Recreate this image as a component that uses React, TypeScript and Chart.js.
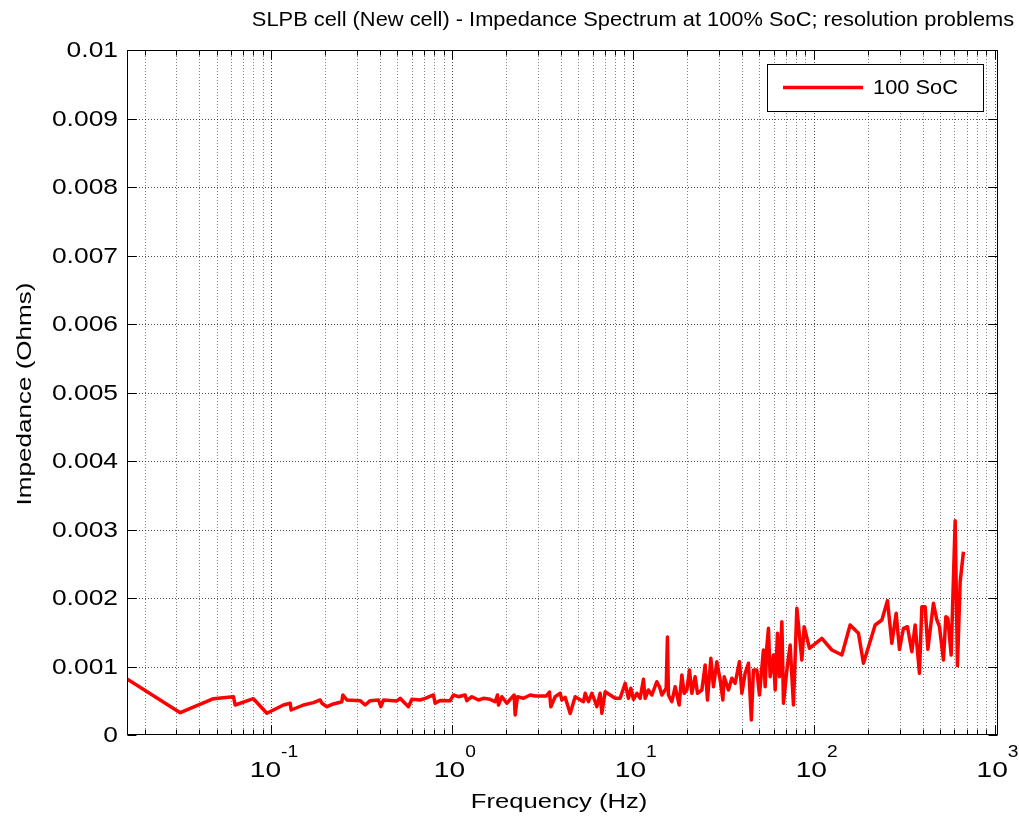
import React, { useEffect, useRef } from 'react';
import { Chart, registerables } from 'chart.js';

Chart.register(...registerables);

const W = 1019;
const H = 817;
const FONT = '"Liberation Sans", Arial, Helvetica, sans-serif';

const titleText = 'SLPB cell (New cell) - Impedance Spectrum at 100% SoC; resolution problems';
const xAxisTitle = 'Frequency (Hz)';
const yAxisTitle = 'Impedance (Ohms)';
const seriesLabel = '100 SoC';

const xMin = 0.016;
const xMax = 1045;
const yMin = 0;
const yMax = 0.01;

const yTickValues = [0, 0.001, 0.002, 0.003, 0.004, 0.005, 0.006, 0.007, 0.008, 0.009, 0.01];
const yTickLabels = ['0', '0.001', '0.002', '0.003', '0.004', '0.005', '0.006', '0.007', '0.008', '0.009', '0.01'];
const xDecadeValues = [0.1, 1, 10, 100, 1000];
const xDecadeExponents = ['-1', '0', '1', '2', '3'];
const minorDecades = [0.01, 0.1, 1, 10, 100];
const minorMultipliers = [2, 3, 4, 5, 6, 7, 8, 9];

const freqHz = [
  0.0160, 0.0315, 0.0481, 0.0620, 0.0634, 0.0800, 0.0949, 0.1172, 0.1277, 0.1293,
  0.1512, 0.1718, 0.1871, 0.1912, 0.2037, 0.2216, 0.2466, 0.2497, 0.2628, 0.3112,
  0.3317, 0.3535, 0.3928, 0.4050, 0.4187, 0.4966, 0.5178, 0.540, 0.5756, 0.601,
  0.668, 0.712, 0.791, 0.8085, 0.862, 0.979, 1.021, 1.088, 1.184, 1.210,
  1.290, 1.403, 1.495, 1.628, 1.735, 1.787, 1.810, 1.890, 2.014, 2.101,
  2.210, 2.238, 2.305, 2.488, 2.709, 2.887, 3.077, 3.321, 3.463, 3.526,
  3.724, 3.969, 4.056, 4.230, 4.508, 4.804, 5.340, 5.457, 5.691, 5.943,
  6.198, 6.334, 6.603, 6.748, 7.038, 7.502, 7.993, 8.518, 9.078, 9.467,
  9.761, 10.09, 10.54, 10.99, 11.46, 11.71, 12.21, 12.75, 13.59, 14.05,
  14.49, 15.30, 15.55, 15.75, 16.45, 17.16, 18.05, 18.68, 19.24, 19.91,
  20.58, 21.22, 22.13, 22.79, 24.10, 25.13, 25.88, 27.02, 27.93, 29.17,
  30.42, 31.49, 32.01, 33.81, 35.30, 36.82, 38.89, 40.10, 41.81, 43.61,
  45.24, 46.47, 48.53, 50.16, 52.78, 53.94, 55.12, 56.25, 57.48, 59.96,
  61.27, 63.08, 64.71, 66.72, 68.10, 71.11, 74.16, 77.35, 80.75, 86.06,
  88.62, 94.81, 111.0, 126.1, 143.2, 159.1, 176.9, 188.5, 218.8, 238.3,
  255.9, 270.6, 285.8, 298.1, 313.6, 330.0, 349.0, 364.0, 384.5, 396.4,
  413.4, 427.9, 459.5, 479.9, 496.0, 521.9, 538.1, 551.9, 575.6, 605.7,
  623.7, 645.6, 673.3,
];

const impedanceOhm = [
  0.000818, 0.000326, 0.000530, 0.000559, 0.000438, 0.000530, 0.000317, 0.000438, 0.000463, 0.000365,
  0.000438, 0.000472, 0.000511, 0.000463, 0.000413, 0.000453, 0.000486, 0.000584, 0.000511, 0.000501,
  0.000438, 0.000501, 0.000511, 0.000413, 0.000511, 0.000496, 0.000536, 0.000486, 0.000413, 0.000521,
  0.000511, 0.000536, 0.000584, 0.000463, 0.000504, 0.000501, 0.000584, 0.000559, 0.000584, 0.000501,
  0.000559, 0.000511, 0.000536, 0.000521, 0.000486, 0.000584, 0.000438, 0.000559, 0.000463, 0.000521,
  0.000584, 0.000292, 0.000559, 0.000536, 0.000584, 0.000569, 0.000569, 0.000569, 0.000628, 0.000413,
  0.000559, 0.000609, 0.000511, 0.000550, 0.000314, 0.000559, 0.000486, 0.000609, 0.000486, 0.000609,
  0.000486, 0.000413, 0.000609, 0.000317, 0.000632, 0.000584, 0.000536, 0.000536, 0.000755, 0.000536,
  0.000682, 0.000521, 0.000609, 0.000536, 0.000813, 0.000536, 0.000657, 0.000584, 0.000778, 0.000705,
  0.000584, 0.000682, 0.001431, 0.000584, 0.000486, 0.000705, 0.000438, 0.000876, 0.000609, 0.000657,
  0.000949, 0.000609, 0.000851, 0.000609, 0.000657, 0.001022, 0.000511, 0.001120, 0.000705, 0.001070,
  0.000803, 0.000511, 0.000851, 0.000657, 0.000828, 0.000755, 0.001070, 0.000609, 0.000901, 0.001047,
  0.000219, 0.000949, 0.000949, 0.000584, 0.001241, 0.000705, 0.001289, 0.001558, 0.000851, 0.001168,
  0.000657, 0.001485, 0.000851, 0.001654, 0.000463, 0.000949, 0.001314, 0.000438, 0.001850, 0.001095,
  0.001581, 0.001266, 0.001412, 0.001241, 0.001168, 0.001606, 0.001485, 0.001047, 0.001606, 0.001679,
  0.001961, 0.001339, 0.001777, 0.001251, 0.001558, 0.001581, 0.001216, 0.001606, 0.000901, 0.001873,
  0.001873, 0.001251, 0.001923, 0.001679, 0.001581, 0.001095, 0.001727, 0.001704, 0.001168, 0.003128,
  0.001012, 0.002238, 0.002676,
];

function drawText(
  ctx: CanvasRenderingContext2D,
  text: string,
  x: number,
  y: number,
  size: number,
  align: 'left' | 'center' | 'right',
  baseline: CanvasTextBaseline,
  sx: number,
) {
  ctx.save();
  ctx.font = `${size}px ${FONT}`;
  ctx.fillStyle = '#000';
  ctx.textBaseline = baseline;
  ctx.textAlign = 'left';
  const w = ctx.measureText(text).width * sx;
  let left = x;
  if (align === 'center') left = x - w / 2;
  else if (align === 'right') left = x - w;
  ctx.translate(left, y);
  ctx.scale(sx, 1);
  ctx.fillText(text, 0, 0);
  ctx.restore();
}

function measure(ctx: CanvasRenderingContext2D, text: string, size: number, sx: number) {
  ctx.save();
  ctx.font = `${size}px ${FONT}`;
  const w = ctx.measureText(text).width * sx;
  ctx.restore();
  return w;
}

const decorPlugin = {
  id: 'matlabDecor',
  beforeDatasetsDraw(chart: any) {
    const { ctx, chartArea: a, scales } = chart;
    const xs = scales.x;
    const ys = scales.y;
    ctx.save();
    ctx.lineWidth = 1;
    ctx.setLineDash([1, 2]);
    ctx.strokeStyle = 'rgba(0,0,0,0.5)';
    for (const d of minorDecades) {
      for (const m of minorMultipliers) {
        const v = d * m;
        if (v <= xMin || v >= xMax) continue;
        const px = Math.round(xs.getPixelForValue(v)) + 0.5;
        ctx.beginPath();
        ctx.moveTo(px, a.top);
        ctx.lineTo(px, a.bottom);
        ctx.stroke();
      }
    }
    ctx.strokeStyle = 'rgba(0,0,0,0.7)';
    for (const v of xDecadeValues) {
      const px = Math.round(xs.getPixelForValue(v)) + 0.5;
      ctx.beginPath();
      ctx.moveTo(px, a.top);
      ctx.lineTo(px, a.bottom);
      ctx.stroke();
    }
    for (const v of yTickValues) {
      if (v <= yMin || v >= yMax) continue;
      const py = Math.round(ys.getPixelForValue(v)) + 0.5;
      ctx.beginPath();
      ctx.moveTo(a.left, py);
      ctx.lineTo(a.right, py);
      ctx.stroke();
    }
    ctx.restore();
  },
  afterDatasetsDraw(chart: any) {
    const { ctx, chartArea: a, scales } = chart;
    const xs = scales.x;
    const ys = scales.y;
    ctx.save();
    ctx.setLineDash([]);
    ctx.strokeStyle = '#000';
    ctx.lineWidth = 1;
    const L = Math.round(a.left) + 0.5;
    const R = Math.round(a.right) - 0.5;
    const T = Math.round(a.top) + 0.5;
    const B = Math.round(a.bottom) - 0.5;
    ctx.strokeRect(L, T, R - L, B - T);

    const xTick = (v: number, len: number) => {
      const px = Math.round(xs.getPixelForValue(v)) + 0.5;
      ctx.beginPath();
      ctx.moveTo(px, B);
      ctx.lineTo(px, B - len);
      ctx.moveTo(px, T);
      ctx.lineTo(px, T + len);
      ctx.stroke();
    };
    for (const d of minorDecades) {
      for (const m of minorMultipliers) {
        const v = d * m;
        if (v <= xMin || v >= xMax) continue;
        xTick(v, 5);
      }
    }
    for (const v of xDecadeValues) xTick(v, 9);

    for (const v of yTickValues) {
      const py = Math.round(ys.getPixelForValue(v)) + 0.5;
      ctx.beginPath();
      ctx.moveTo(L, py);
      ctx.lineTo(L + 9, py);
      ctx.moveTo(R, py);
      ctx.lineTo(R - 9, py);
      ctx.stroke();
    }
    ctx.restore();

    // y tick labels
    yTickValues.forEach((v, i) => {
      const py = ys.getPixelForValue(v);
      drawText(ctx, yTickLabels[i], a.left - 9, py + 1, 22, 'right', 'middle', 1.2);
    });

    // x tick labels: 10 with superscript exponent
    xDecadeValues.forEach((v, i) => {
      const px = xs.getPixelForValue(v);
      const base = '10';
      const exp = xDecadeExponents[i];
      const wb = measure(ctx, base, 22, 1.28);
      const we = measure(ctx, exp, 16, 1.2);
      const left = px + 3 - (wb + we) / 2;
      drawText(ctx, base, left, a.bottom + 42, 22, 'left', 'alphabetic', 1.28);
      drawText(ctx, exp, left + wb, a.bottom + 22, 16, 'left', 'alphabetic', 1.2);
    });

    // axis titles
    drawText(ctx, xAxisTitle, 559, a.bottom + 67, 21, 'center', 'middle', 1.22);
    ctx.save();
    ctx.translate(25, 394);
    ctx.rotate(-Math.PI / 2);
    drawText(ctx, yAxisTitle, 0, 0, 21, 'center', 'middle', 1.24);
    ctx.restore();

    // title
    drawText(ctx, titleText, 633, 20, 21, 'center', 'middle', 1.04);

    // legend
    const lx = 767, ly = 64, lw = 216, lh = 47;
    ctx.save();
    ctx.fillStyle = '#fff';
    ctx.fillRect(lx, ly, lw, lh);
    ctx.strokeStyle = '#000';
    ctx.lineWidth = 1;
    ctx.strokeRect(lx + 0.5, ly + 0.5, lw, lh);
    ctx.strokeStyle = '#ff0000';
    ctx.lineWidth = 3.5;
    ctx.beginPath();
    ctx.moveTo(783, ly + lh / 2);
    ctx.lineTo(863, ly + lh / 2);
    ctx.stroke();
    ctx.restore();
    drawText(ctx, seriesLabel, 873, ly + lh / 2 + 1, 21, 'left', 'middle', 1.04);
  },
};

export default function App() {
  const ref = useRef<HTMLCanvasElement | null>(null);
  useEffect(() => {
    document.body.style.margin = '0';
    document.body.style.overflow = 'hidden';
    const canvas = ref.current;
    if (!canvas) return;
    const points = freqHz.map((f, i) => ({ x: f, y: impedanceOhm[i] }));
    const chart = new Chart(canvas, {
      type: 'line',
      data: {
        datasets: [
          {
            label: seriesLabel,
            data: points,
            borderColor: '#ff0000',
            backgroundColor: '#ff0000',
            borderWidth: 3.5,
            pointRadius: 0,
            tension: 0,
            fill: false,
            borderJoinStyle: 'round',
          },
        ],
      },
      options: {
        responsive: false,
        animation: false,
        devicePixelRatio: 1,
        layout: { padding: { left: 127, top: 50, right: 21, bottom: 82 } },
        plugins: { legend: { display: false }, tooltip: { enabled: false }, title: { display: false } },
        scales: {
          x: { type: 'logarithmic', min: xMin, max: xMax, display: false },
          y: { type: 'linear', min: yMin, max: yMax, display: false },
        },
      },
      plugins: [decorPlugin],
    });
    return () => chart.destroy();
  }, []);
  return (
    <div style={{ width: W, height: H, position: 'relative', background: '#fff' }}>
      <canvas ref={ref} width={W} height={H} style={{ display: 'block', width: W, height: H }} />
    </div>
  );
}
